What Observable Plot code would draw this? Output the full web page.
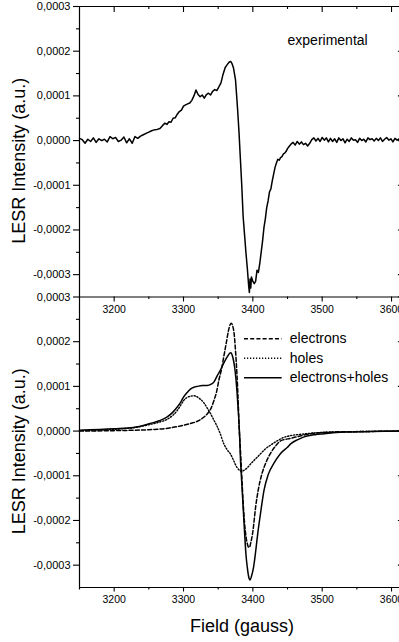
<!DOCTYPE html>
<html><head><meta charset="utf-8">
<script src="https://cdn.jsdelivr.net/npm/d3@7"></script>
<script src="https://cdn.jsdelivr.net/npm/@observablehq/plot@0.6"></script>
<style>
body{margin:0;background:#fff;}
#chart{width:399px;height:642px;overflow:hidden;}
</style></head><body><div id="chart"></div>
<script>
// ---------- DATA (intensities in units of 1e-5 a.u.) ----------
const expField = [3150,3154,3158,3162,3166,3170,3174,3178,3182,3186,3190,3194,3198,3202,3206,3210,3214,3218,3222,3226,3230,3234,3238,3242,3246,3250,3254,3258,3262,3266,3270,3273,3276,3279,3282,3285,3288,3291,3294,3297,3300,3303,3306,3309,3312,3315,3318,3321,3324,3327,3330,3333,3336,3339,3342,3345,3348,3351,3354,3357,3360,3363,3366,3368,3370,3372,3375,3378,3380,3382,3384,3386,3388,3390,3392,3394,3395,3396,3397,3398,3400,3402,3404,3406,3408,3410,3412,3414,3416,3418,3420,3422,3424,3426,3428,3430,3432,3434,3436,3438,3440,3442,3444,3446,3448,3450,3452,3455,3458,3461,3464,3467,3470,3473,3476,3479,3482,3485,3488,3491,3494,3497,3500,3503,3506,3509,3512,3515,3518,3521,3524,3527,3530,3533,3536,3539,3542,3545,3548,3551,3554,3557,3560,3563,3566,3569,3572,3575,3578,3581,3584,3587,3590,3593,3596,3599,3602,3605,3608,3611];
const expIntensity = [0.5,0.2,-0.6,0.3,-0.2,0.6,-0.4,0.4,0.0,0.3,-0.3,0.9,0.4,0.7,-0.2,0.1,0.8,-0.5,0.4,-0.6,0.9,0.5,1.0,1.3,1.6,1.9,2.2,2.4,2.5,2.7,3.4,3.9,3.6,4.2,4.1,5.0,5.1,5.9,6.5,6.8,7.7,8.0,8.2,8.4,9.0,10.0,11.3,10.3,9.8,10.2,9.5,10.3,10.6,10.2,11.0,11.4,11.2,12.0,12.9,14.8,16.3,17.0,17.6,17.7,17.2,16.3,13.6,7.0,2.0,-4.0,-10.0,-17.0,-21.0,-25.0,-28.5,-32.5,-34.0,-31.0,-33.0,-30.5,-31.5,-32.0,-31.5,-29.0,-29.5,-27.5,-25.0,-22.5,-19.5,-17.5,-15.0,-13.5,-11.5,-10.8,-9.0,-7.5,-6.0,-5.0,-4.2,-4.4,-3.8,-3.6,-3.0,-2.8,-2.4,-1.8,-1.4,-0.8,-0.4,-1.0,-0.2,-0.8,-0.3,-0.9,-0.6,-1.2,-0.6,0.2,0.6,-0.1,0.5,-0.2,0.7,0.1,0.6,-0.3,0.5,-0.2,0.4,-0.4,0.6,0.0,0.4,-0.5,0.3,-0.2,0.6,0.1,0.2,-0.4,0.5,0.0,0.3,-0.3,0.6,0.2,0.4,-0.1,0.5,0.0,0.6,-0.2,0.3,0.7,0.1,0.4,-0.3,0.5,0.1,0.4];

const elecField = [3150,3200,3250,3280,3300,3310,3320,3330,3335,3340,3344,3348,3351,3355,3358,3362,3365,3367,3369,3371,3373,3375,3377,3379,3380,3382,3384,3386,3388,3390,3392,3394,3395,3397,3400,3404,3408,3413,3419,3425,3432,3440,3455,3483,3517,3560,3611];
const elecIntensity = [0.0,0.1,0.3,0.7,1.3,1.7,2.2,3.2,4.0,5.2,6.9,9.0,11.4,14.0,16.6,20.0,22.6,23.7,24.1,23.5,21.8,18.0,12.9,6.0,1.7,-4.0,-10.0,-16.0,-20.5,-23.5,-25.2,-26.0,-26.0,-25.0,-22.5,-17.0,-13.0,-9.6,-7.0,-5.1,-3.5,-2.2,-1.6,-0.6,-0.2,-0.1,0.0];

const holeField = [3150,3200,3230,3252,3265,3276,3285,3291,3296,3300,3305,3310,3315,3318,3322,3329,3334,3339,3344,3349,3353,3358,3363,3368,3372,3377,3381,3384,3388,3392,3397,3404,3411,3418,3426,3435,3445,3455,3470,3490,3520,3560,3611];
const holeIntensity = [0.1,0.4,0.8,1.5,2.0,2.6,3.6,4.6,5.8,6.8,7.5,7.8,7.9,7.8,7.4,6.4,5.2,3.9,2.4,0.9,-0.6,-2.8,-4.2,-5.2,-6.5,-8.1,-8.8,-9.0,-8.7,-8.2,-7.3,-6.2,-5.1,-4.0,-3.1,-2.2,-1.4,-1.0,-0.7,-0.4,-0.2,-0.1,0.0];

const sumField = [3150,3200,3228,3252,3265,3276,3285,3291,3296,3300,3305,3310,3315,3320,3327,3334,3340,3344,3348,3353,3358,3363,3366,3368,3370,3372,3374,3377,3379,3381,3382,3384,3386,3388,3390,3392,3394,3396,3398,3401,3404,3407,3411,3416,3422,3430,3440,3450,3455,3465,3474,3490,3503,3520,3541,3570,3611];
const sumIntensity = [0.2,0.5,0.8,1.7,2.3,3.1,4.3,5.4,6.5,7.6,8.6,9.4,9.8,10.0,10.2,10.2,10.5,11.0,12.2,13.6,15.2,16.6,17.3,17.5,17.1,15.9,14.0,9.1,4.5,-1.3,-5.8,-11.5,-17.0,-22.5,-27.5,-30.5,-32.6,-33.3,-32.5,-30.5,-27.0,-23.0,-18.5,-13.3,-9.8,-7.3,-5.0,-3.6,-2.8,-1.9,-1.3,-0.8,-0.6,-0.3,-0.2,-0.1,0.0];

const xMajorTicks = [3200,3300,3400,3500,3600];
const xMinorTicks = [3250,3350,3450,3550];
const yMajorTicks = [-0.0003,-0.0002,-0.0001,0,0.0001,0.0002,0.0003];
const yMinorTicks = [-0.00025,-0.00015,-0.00005,0.00005,0.00015,0.00025];
const legendLabels = ["electrons","holes","electrons+holes"];
const topLabel = "experimental";
const yTitle = "LESR Intensity (a.u.)";
const xTitle = "Field (gauss)";

// ---------- LAYOUT ----------
const UNIT = 1e-5;
const xMin = 3150, xMax = 3611.5;
const yMin = -0.00035, yMax = 0.0003;
const span = yMax - yMin;           // top panel is shifted up by one panel span
const W = 399, H = 642, mT = 6, mB = 55, mL = 79;
const pxY = (2*span) / (H - mT - mB);
const ink = "#000";

const mk = (f, v, shift) => f.map((x, i) => ({f: x, y: v[i]*UNIT + shift}));
const expData = mk(expField, expIntensity, span);
const elecData = mk(elecField, elecIntensity, 0);
const holeData = mk(holeField, holeIntensity, 0);
const sumData = mk(sumField, sumIntensity, 0);

const fmt = v => (Math.abs(v) < 1e-12 ? 0 : v).toFixed(4).replace(".", ",");
const labelMap = new Map();
const majorAll = [];
for (const v of yMajorTicks) { majorAll.push(v); labelMap.set(Math.round(v*1e7), fmt(v)); }
for (const v of yMajorTicks) { if (v + span > yMax + 1e-9) { majorAll.push(v + span); labelMap.set(Math.round((v+span)*1e7), fmt(v)); } }
const minorAll = yMinorTicks.concat(yMinorTicks.map(v => v + span));

const boundary = yMax;            // = yMin + span
const topEdge = yMax + span;

// legend rows (bottom panel)
const legRows = legendLabels.map((t, i) => ({t, i, y: 0.0002064 - i*0.0000436}));
const dashes = ["4,2.2", "1.2,1.8", null];
const titleRows = [{t: yTitle, y: span - 0.000045}, {t: yTitle, y: -0.000045}];

const chart = Plot.plot({
  width: W, height: H,
  marginLeft: mL, marginRight: 0, marginTop: mT, marginBottom: mB,
  style: {fontFamily: "'Liberation Sans', Arial, sans-serif", fontSize: "11px", background: "#fff", color: ink, overflow: "hidden"},
  x: {domain: [xMin, xMax]},
  y: {domain: [yMin, topEdge]},
  marks: [
    // frame lines
    Plot.ruleY([yMin, boundary, topEdge], {stroke: ink, strokeWidth: 1.2}),
    Plot.ruleX([xMin], {y1: yMin - 2.5*pxY, y2: topEdge, stroke: ink, strokeWidth: 1.2}),
    // y axes
    Plot.axisY(majorAll, {tickSize: 6, tickPadding: 3, strokeWidth: 1.1, fontSize: 11, label: null,
      tickFormat: t => labelMap.get(Math.round(t*1e7)) ?? ""}),
    Plot.axisY(minorAll, {tickSize: 3, strokeWidth: 1.1, label: null, tickFormat: () => ""}),
    Plot.ruleY(majorAll, {x1: xMax - 1.6, x2: xMax, stroke: ink, strokeWidth: 1.1}),
    // bottom x axis
    Plot.axisX(xMajorTicks, {tickSize: 4.5, tickPadding: 4, strokeWidth: 1.1, fontSize: 10.5, label: null, tickFormat: d => String(d)}),
    Plot.axisX(xMinorTicks, {tickSize: 2.5, strokeWidth: 1.1, label: null, tickFormat: () => ""}),
    // middle x axis (top panel bottom)
    Plot.ruleX(xMajorTicks, {y1: boundary, y2: boundary - 5*pxY, stroke: ink, strokeWidth: 1.1}),
    Plot.ruleX(xMinorTicks, {y1: boundary, y2: boundary - 2.5*pxY, stroke: ink, strokeWidth: 1.1}),
    Plot.text(xMajorTicks, {x: d => d, y: boundary, dy: 13, text: d => String(d), fontSize: 10.5, fill: ink}),
    // top frame inward ticks
    Plot.ruleX(xMajorTicks, {y1: topEdge, y2: topEdge - 6*pxY, stroke: ink, strokeWidth: 1.1}),
    Plot.ruleX(xMinorTicks, {y1: topEdge, y2: topEdge - 3*pxY, stroke: ink, strokeWidth: 1.1}),
    // axis titles
    Plot.text(titleRows, {frameAnchor: "left", dx: -60, y: "y", text: "t", rotate: -90,
      textAnchor: "middle", lineAnchor: "middle", fontSize: 18, fill: ink}),
    Plot.text([xTitle], {frameAnchor: "bottom", x: () => 3384.4, dy: 39, text: d => d,
      textAnchor: "middle", lineAnchor: "middle", fontSize: 18, fill: ink}),
    // data
    Plot.line(expData, {x: "f", y: "y", stroke: ink, strokeWidth: 1.5, curve: "linear"}),
    Plot.line(elecData, {x: "f", y: "y", stroke: ink, strokeWidth: 1.5, strokeDasharray: dashes[0], curve: "monotone-x"}),
    Plot.line(holeData, {x: "f", y: "y", stroke: ink, strokeWidth: 1.4, strokeDasharray: dashes[1], curve: "monotone-x"}),
    Plot.line(sumData, {x: "f", y: "y", stroke: ink, strokeWidth: 1.5, curve: "monotone-x"}),
    // labels
    Plot.text([topLabel], {x: () => 3450, y: () => 0.000224 + span, text: d => d, textAnchor: "start", fontSize: 14, fill: ink}),
    ...legRows.map(r => Plot.ruleY([r], {y: "y", x1: 3388, x2: 3442.3, stroke: ink, strokeWidth: 1.5, strokeDasharray: dashes[r.i]})),
    Plot.text(legRows, {x: () => 3453.2, y: "y", text: "t", textAnchor: "start", fontSize: 14, fill: ink})
  ]
});
document.getElementById("chart").appendChild(chart);
</script>
</body></html>
